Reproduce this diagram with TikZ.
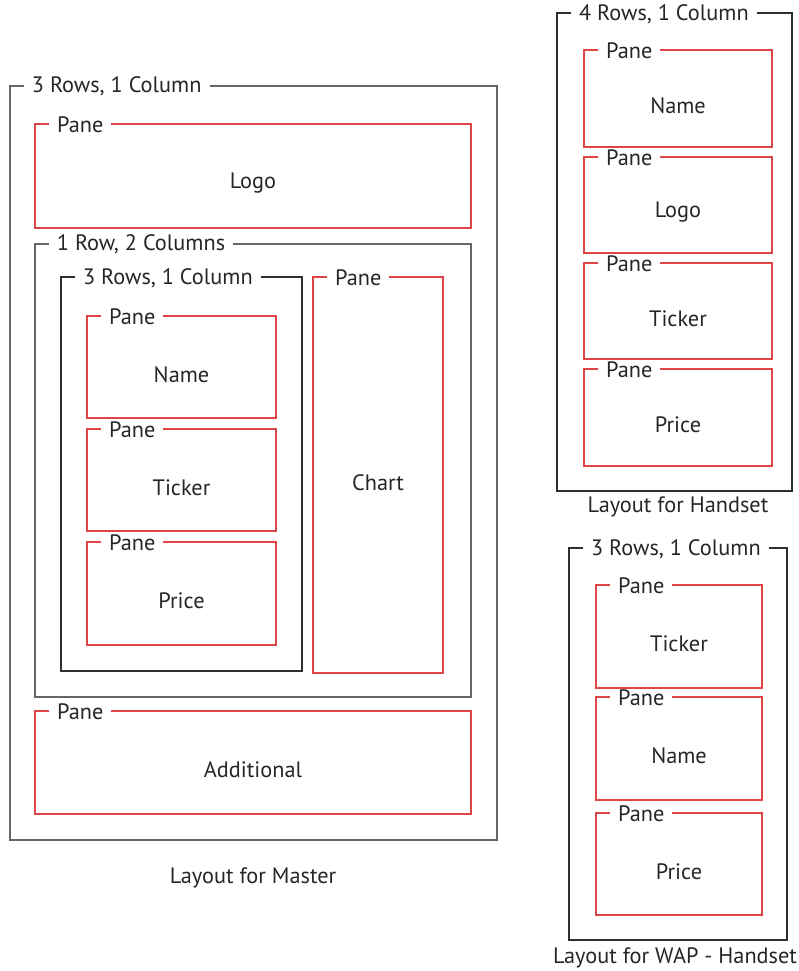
\documentclass[tikz,border=0pt]{standalone}
\usepackage{fontspec}
\setmainfont{PT Sans}
\usetikzlibrary{fit}
\definecolor{framegray}{HTML}{666666}
\definecolor{framedark}{HTML}{2E2E2E}
\definecolor{panered}{HTML}{E04545}
\tikzset{
  graybox/.style={draw=framegray, line width=2.6pt, inner sep=0pt},
  darkbox/.style={draw=framedark, line width=2.2pt, inner sep=0pt},
  redbox/.style={draw=panered, line width=2.2pt, inner sep=0pt},
  title/.style={fill=white, inner xsep=8pt, inner ysep=1pt, anchor=west, text=black!85, font=\fontsize{22.3}{24}\selectfont},
  content/.style={text=black!85, font=\fontsize{22.3}{24}\selectfont},
  caption/.style={text=black!85, font=\fontsize{22.3}{24}\selectfont},
}
\newcommand{\frm}[8]{%
  \node[#2, fit={(#3,#4) (#5,#6)}] (#1) {};
  \node[title] (#1t) at ([xshift=15pt,yshift=-2pt]#1.north west) {#7};
  \if\relax\detokenize{#8}\relax\else
  \node[content, yshift=-7.5pt] (#1c) at (#1.center) {#8};
  \fi
}
\begin{document}
\begin{tikzpicture}[x=1pt,y=-1pt]
\useasboundingbox (0,0) rectangle (798,971);
% Master
\frm{m}{graybox}{10}{86}{497}{840}{3 Rows, 1 Column}{}
\frm{mlogo}{redbox}{35}{124}{471}{228}{Pane}{Logo}
\frm{mrow}{graybox}{35}{244}{471}{697}{1 Row, 2 Columns}{}
\frm{mcol}{darkbox}{61}{277}{302}{671}{3 Rows, 1 Column}{}
\frm{mname}{redbox}{87}{316}{276}{418}{Pane}{Name}
\frm{mticker}{redbox}{87}{429}{276}{531}{Pane}{Ticker}
\frm{mprice}{redbox}{87}{542}{276}{645}{Pane}{Price}
\frm{mchart}{redbox}{313}{277}{443}{673}{Pane}{Chart}
\frm{madd}{redbox}{35}{711}{471}{814}{Pane}{Additional}
\node[caption] (mcap) at (253,878) {Layout for Master};
% Handset
\frm{h}{darkbox}{557}{13}{792}{491}{4 Rows, 1 Column}{}
\frm{hname}{redbox}{584}{50}{772}{147}{Pane}{Name}
\frm{hlogo}{redbox}{584}{157}{772}{253}{Pane}{Logo}
\frm{hticker}{redbox}{584}{263}{772}{359}{Pane}{Ticker}
\frm{hprice}{redbox}{584}{369}{772}{466}{Pane}{Price}
\node[caption] (hcap) at (678,507) {Layout for Handset};
% WAP
\frm{w}{darkbox}{569}{548}{787}{940}{3 Rows, 1 Column}{}
\frm{wticker}{redbox}{596}{585}{762}{688}{Pane}{Ticker}
\frm{wname}{redbox}{596}{697}{762}{800}{Pane}{Name}
\frm{wprice}{redbox}{596}{813}{762}{915}{Pane}{Price}
\node[caption] (wcap) at (675,958) {Layout for WAP - Handset};
\end{tikzpicture}
\end{document}
